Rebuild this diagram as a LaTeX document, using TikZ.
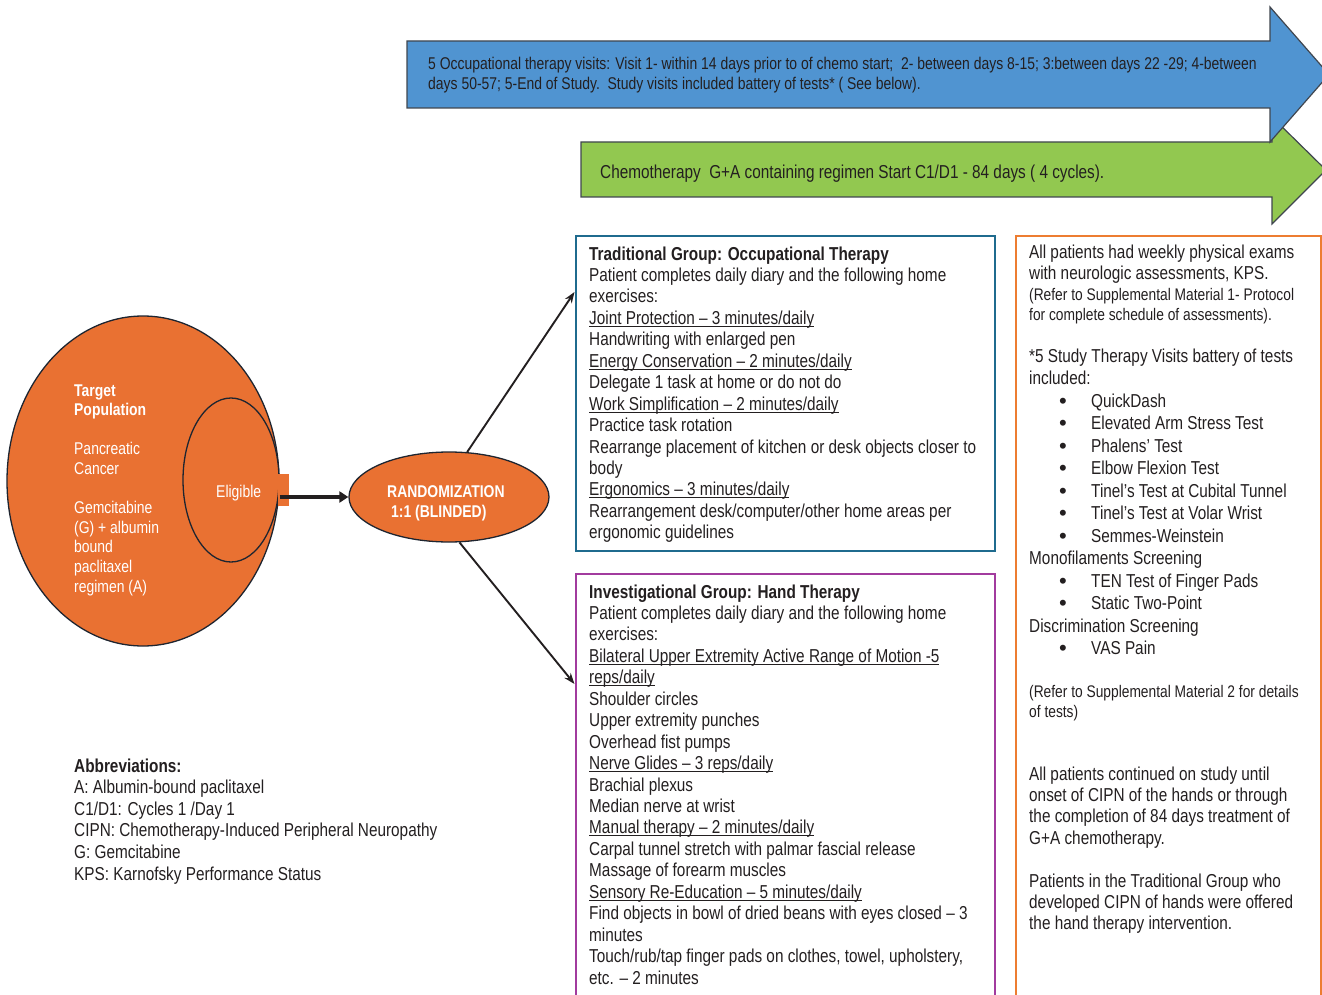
\documentclass[tikz,border=0pt]{standalone}
\usepackage{fontspec}
\setmainfont[FakeStretch=0.82]{Liberation Sans}
\newfontfamily\bulletfont{Liberation Sans}
\usetikzlibrary{shapes.geometric,arrows.meta}

\definecolor{orangefill}{HTML}{E97132}
\definecolor{bluearrow}{HTML}{5094D1}
\definecolor{greenarrow}{HTML}{92C850}
\definecolor{tealframe}{HTML}{1F6B8E}
\definecolor{purpleframe}{HTML}{A23B9E}
\definecolor{orangeframe}{HTML}{ED7D31}
\definecolor{outline}{HTML}{1E2530}
\definecolor{ink}{HTML}{231F20}

\newsavebox\ulbox
\newcommand\ulin[1]{\sbox\ulbox{#1}\rlap{\rule[-2.4pt]{\wd\ulbox}{0.9pt}}\usebox\ulbox}
\newcommand\bul[1]{\makebox[62pt][l]{\hspace{30pt}\raisebox{-1.2pt}{\bulletfont\fontsize{22}{0}\selectfont\textbullet}}#1}

% multi-line nodes are anchored at the baseline of their last line
\tikzset{
  bigarrow/.style={draw=outline!85, line width=1.2pt, line join=miter},
  blob/.style={ellipse, draw=outline, fill=orangefill, line width=1.3pt, inner sep=0pt},
  txt/.style={anchor=base west, align=left, inner sep=0pt, text=ink},
  body/.style={txt, font=\fontsize{18.7}{21.45}\selectfont},
  small/.style={txt, font=\fontsize{16.8}{20}\selectfont},
  oncolor/.style={anchor=base west, align=left, inner sep=0pt, text=white,
    font=\fontsize{17}{19.6}\selectfont},
  frame/.style={draw=#1, line width=2pt, anchor=north west, inner sep=0pt},
  branch/.style={draw=ink, line width=1.9pt, -{Stealth[length=11pt,width=8pt]}}
}

\begin{document}
\begin{tikzpicture}[x=1pt,y=-1pt]
\useasboundingbox (0,0) rectangle (1322,995);

% timeline arrows
\draw[bigarrow, fill=greenarrow] (581,142) -- (1272,142) -- (1272,117) -- (1326,170)
  -- (1272,224) -- (1272,197) -- (581,197) -- cycle;
\draw[bigarrow, fill=bluearrow] (407,41) -- (1270,41) -- (1270,7) -- (1329,74.5)
  -- (1270,142) -- (1270,108) -- (407,108) -- cycle;
\node[txt, font=\fontsize{17}{20.5}\selectfont] (visits) at (428,{69.5+20.5})
  {5 Occupational therapy visits: Visit 1- within 14 days prior to of chemo start;\ \ 2- between days 8-15; 3:between days 22 -29; 4-between\\
   days 50-57; 5-End of Study.\ \ Study visits included battery of tests* ( See below).};
\node[body] (chemo) at (600,179)
  {Chemotherapy\ \ G+A containing regimen Start C1/D1 - 84 days ( 4 cycles).};

% population sets
\node[blob, minimum width=272pt, minimum height=330pt] (target) at (143,481) {};
\node[blob, minimum width=96pt, minimum height=164pt] (eligible) at (231,480) {};
\node[fill=orangefill, minimum width=11pt, minimum height=32pt, inner sep=0pt] (tab) at (283.5,490) {};
\node[oncolor] (targetlabel) at (74,592)
  {\textbf{Target}\\\textbf{Population}\\[19.6pt]Pancreatic\\Cancer\\[19.6pt]Gemcitabine\\{(G) + albumin}\\bound\\paclitaxel\\regimen (A)};
\node[oncolor] (eliglabel) at (216,497) {Eligible};

% randomisation
\node[blob, minimum width=200pt, minimum height=90pt] (rand) at (449,497) {};
\node[oncolor, font=\bfseries\fontsize{17}{20}\selectfont] (randlabel) at (387,517)
  {RANDOMIZATION\\\hspace{4pt}1:1 (BLINDED)};
\draw[draw=ink, line width=3.5pt, -{Triangle[length=9pt,width=11pt]}]
  (eligible.east |- rand.west) -- (rand.west);

% group boxes
\node[frame=tealframe, minimum width=419pt, minimum height=315pt] (trad) at (574.5,235) {};
\node[frame=purpleframe, minimum width=419pt, minimum height=440pt] (inv) at (574.5,573) {};
\node[frame=orangeframe, minimum width=305pt, minimum height=800pt] (info) at (1015,235) {};

\coordinate (tradin) at (trad.west |- 0,292);
\coordinate (invin) at (inv.west |- 0,684);
\draw[branch] (rand.68) -- (tradin);
\draw[branch] (rand.-77) -- (invin);

\node[body] (tradtext) at (589,{260+13*21.45})
  {\textbf{Traditional Group: Occupational Therapy}\\
   Patient completes daily diary and the following home\\
   exercises:\\
   \ulin{Joint Protection – 3 minutes/daily}\\
   Handwriting with enlarged pen\\
   \ulin{Energy Conservation – 2 minutes/daily}\\
   Delegate 1 task at home or do not do\\
   \ulin{Work Simplification – 2 minutes/daily}\\
   Practice task rotation\\
   Rearrange placement of kitchen or desk objects closer to\\
   body\\
   \ulin{Ergonomics – 3 minutes/daily}\\
   Rearrangement desk/computer/other home areas per\\
   ergonomic guidelines};

\node[body] (invtext) at (589,{598+18*21.45})
  {\textbf{Investigational Group: Hand Therapy}\\
   Patient completes daily diary and the following home\\
   exercises:\\
   \ulin{Bilateral Upper Extremity Active Range of Motion -5}\\
   \ulin{reps/daily}\\
   Shoulder circles\\
   Upper extremity punches\\
   Overhead fist pumps\\
   \ulin{Nerve Glides – 3 reps/daily}\\
   Brachial plexus\\
   Median nerve at wrist\\
   \ulin{Manual therapy – 2 minutes/daily}\\
   Carpal tunnel stretch with palmar fascial release\\
   Massage of forearm muscles\\
   \ulin{Sensory Re-Education – 5 minutes/daily}\\
   Find objects in bowl of dried beans with eyes closed – 3\\
   minutes\\
   Touch/rub/tap finger pads on clothes, towel, upholstery,\\
   etc. – 2 minutes};

% assessments column
\node[body] (exams) at (1029,{258+21.45})
  {All patients had weekly physical exams\\with neurologic assessments, KPS.};
\node[small] (protocol) at (1029,320)
  {(Refer to Supplemental Material 1- Protocol\\for complete schedule of assessments).};
\node[body, font=\fontsize{18.7}{22.5}\selectfont] (battery) at (1029,{362+13*22.5})
  {*5 Study Therapy Visits battery of tests\\
   included:\\
   \bul{QuickDash}\\
   \bul{Elevated Arm Stress Test}\\
   \bul{Phalens’ Test}\\
   \bul{Elbow Flexion Test}\\
   \bul{Tinel’s Test at Cubital Tunnel}\\
   \bul{Tinel’s Test at Volar Wrist}\\
   \bul{Semmes-Weinstein}\\
   Monofilaments Screening\\
   \bul{TEN Test of Finger Pads}\\
   \bul{Static Two-Point}\\
   Discrimination Screening\\
   \bul{VAS Pain}};
\node[small] (details) at (1029,717)
  {(Refer to Supplemental Material 2 for details\\of tests)};
\node[body] (continued) at (1029,{780+3*21.45})
  {All patients continued on study until\\
   onset of CIPN of the hands or through\\
   the completion of 84 days treatment of\\
   G+A chemotherapy.};
\node[body] (offered) at (1029,{887+2*21.45})
  {Patients in the Traditional Group who\\
   developed CIPN of hands were offered\\
   the hand therapy intervention.};

% abbreviations
\node[body, font=\fontsize{18.7}{21.6}\selectfont] (abbrev) at (74,{772+5*21.6})
  {\textbf{Abbreviations:}\\
   A: Albumin-bound paclitaxel\\
   C1/D1: Cycles 1 /Day 1\\
   CIPN: Chemotherapy-Induced Peripheral Neuropathy\\
   G: Gemcitabine\\
   KPS: Karnofsky Performance Status};
\end{tikzpicture}
\end{document}
